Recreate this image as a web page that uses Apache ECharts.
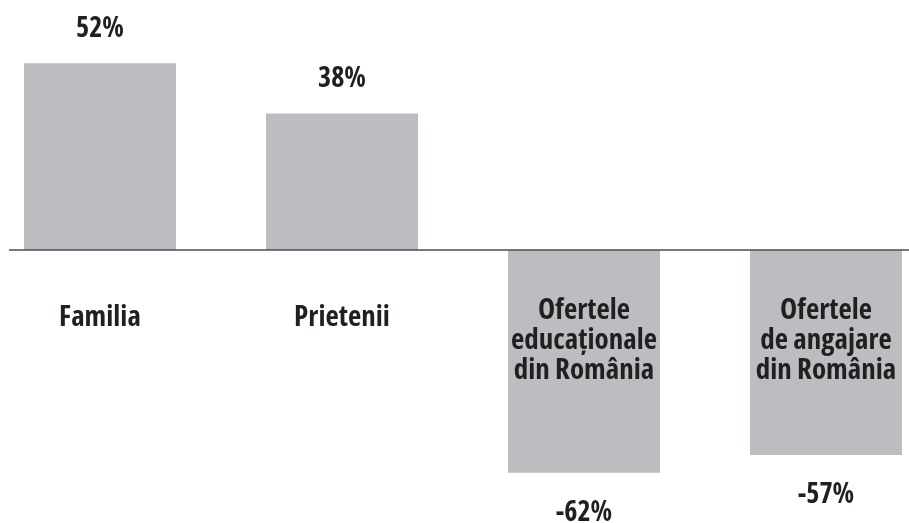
<!DOCTYPE html>
<html>
<head>
<meta charset="utf-8">
<script src="https://cdn.jsdelivr.net/npm/echarts@6/dist/echarts.min.js"></script>
<style>
  html, body { margin: 0; padding: 0; background: #fff; }
  #chart { width: 909px; height: 523px; }
</style>
</head>
<body>
<div id="chart"></div>
<script>
// date din grafic
const categories = [
  'Familia',
  'Prietenii',
  'Ofertele\neducaționale\ndin România',
  'Ofertele\nde angajare\ndin România',
];
const values = [52, 38, -62, -57];

const FONT = '"Open Sans", sans-serif';
const STRETCH = 'semi-condensed'; // merge in locul lui fontStyle in sirul font
const TEXT_COLOR = '#231f20';
const BAR_COLOR = '#bcbdc1';
const Y_MIN = -70;
const Y_MAX = 60;

const chart = echarts.init(document.getElementById('chart'));

chart.setOption({
  animation: false,
  grid: {
    left: -21,
    width: 968,
    top: 34.4,
    height: 467.2,
    containLabel: false,
    outerBoundsMode: 'none',
  },
  xAxis: {
    type: 'category',
    position: 'bottom',
    data: categories.map((c) => ({
      value: c,
      // etichetele pe mai multe randuri stau putin mai sus
      textStyle: c.indexOf('\n') >= 0 ? { padding: [0, 0, 0, 0] } : { padding: [7, 0, 0, 0] },
    })),
    axisLine: { show: false, onZero: false },
    axisTick: { show: false },
    axisLabel: {
      interval: 0,
      margin: 46,
      verticalAlign: 'top',
      lineHeight: 30,
      fontSize: 29,
      fontStyle: STRETCH,
      fontWeight: 'bold',
      fontFamily: FONT,
      color: TEXT_COLOR,
    },
    z: 10,
  },
  yAxis: {
    type: 'value',
    min: Y_MIN,
    max: Y_MAX,
    axisLine: { show: false },
    axisTick: { show: false },
    axisLabel: { show: false },
    splitLine: { show: false },
  },
  series: [{
    type: 'bar',
    barWidth: 152,
    itemStyle: { color: BAR_COLOR },
    data: values.map((v) => ({
      value: v,
      label: { position: v < 0 ? 'bottom' : 'top', distance: v < 0 ? 26 : 20 },
    })),
    label: {
      show: true,
      fontSize: 28,
      fontStyle: STRETCH,
      fontWeight: 'bold',
      fontFamily: FONT,
      color: TEXT_COLOR,
      formatter: (p) => `${p.value}%`,
    },
  }],
});

// axa x urcata pe linia de zero + linia de baza
const y0 = chart.convertToPixel({ yAxisIndex: 0 }, 0);
const yBottom = chart.convertToPixel({ yAxisIndex: 0 }, Y_MIN);
chart.setOption({
  xAxis: { offset: y0 - yBottom },
  graphic: [{
    type: 'line',
    shape: { x1: 9, y1: y0, x2: 909, y2: y0 },
    style: { stroke: '#4d4d4f', lineWidth: 1.5 },
    z: 100,
  }],
});
</script>
</body>
</html>
